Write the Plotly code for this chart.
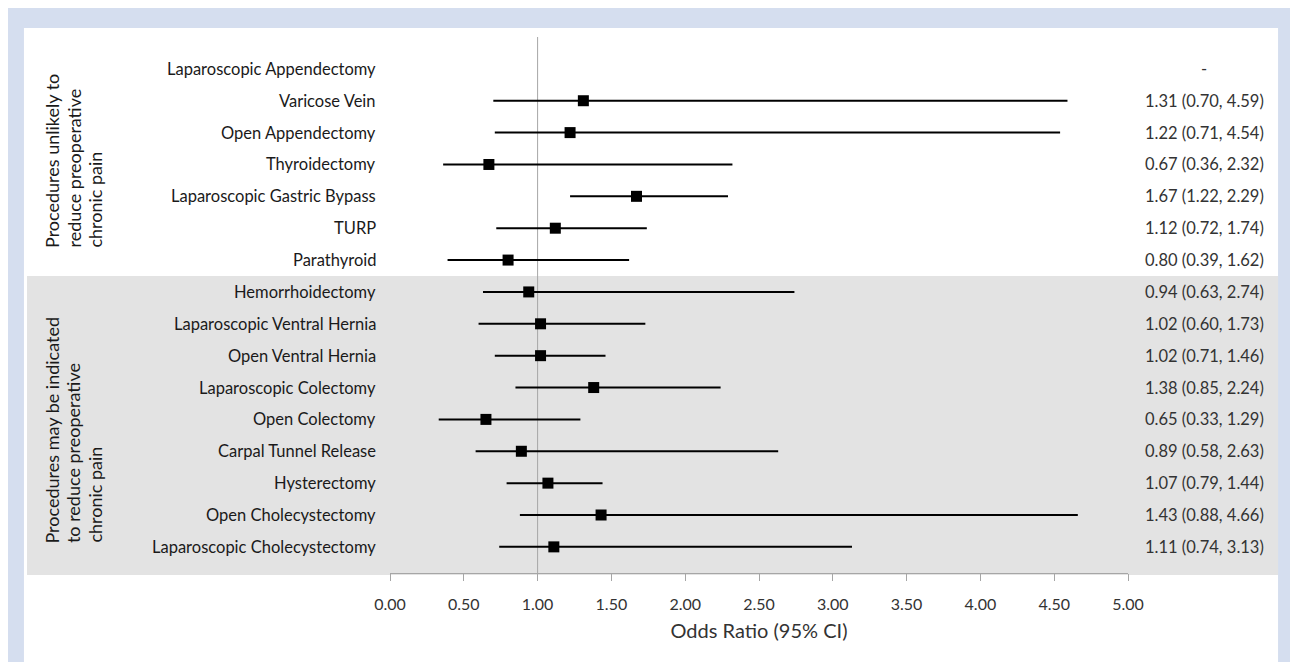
import plotly.graph_objects as go

procedures = [
    "Laparoscopic Appendectomy", "Varicose Vein", "Open Appendectomy", "Thyroidectomy",
    "Laparoscopic Gastric Bypass", "TURP", "Parathyroid", "Hemorrhoidectomy",
    "Laparoscopic Ventral Hernia", "Open Ventral Hernia", "Laparoscopic Colectomy",
    "Open Colectomy", "Carpal Tunnel Release", "Hysterectomy", "Open Cholecystectomy",
    "Laparoscopic Cholecystectomy",
]
odds_ratio = [None, 1.31, 1.22, 0.67, 1.67, 1.12, 0.80, 0.94, 1.02, 1.02, 1.38, 0.65, 0.89, 1.07, 1.43, 1.11]
ci_low = [None, 0.70, 0.71, 0.36, 1.22, 0.72, 0.39, 0.63, 0.60, 0.71, 0.85, 0.33, 0.58, 0.79, 0.88, 0.74]
ci_high = [None, 4.59, 4.54, 2.32, 2.29, 1.74, 1.62, 2.74, 1.73, 1.46, 2.24, 1.29, 2.63, 1.44, 4.66, 3.13]
ci_text = ["-", "1.31 (0.70, 4.59)", "1.22 (0.71, 4.54)", "0.67 (0.36, 2.32)", "1.67 (1.22, 2.29)",
           "1.12 (0.72, 1.74)", "0.80 (0.39, 1.62)", "0.94 (0.63, 2.74)", "1.02 (0.60, 1.73)",
           "1.02 (0.71, 1.46)", "1.38 (0.85, 2.24)", "0.65 (0.33, 1.29)", "0.89 (0.58, 2.63)",
           "1.07 (0.79, 1.44)", "1.43 (0.88, 4.66)", "1.11 (0.74, 3.13)"]
group1_lines = ["Procedures unlikely to", "reduce preoperative", "chronic pain"]
group2_lines = ["Procedures may be indicated", "to reduce preoperative", "chronic pain"]
tick_vals = [0, 0.5, 1, 1.5, 2, 2.5, 3, 3.5, 4, 4.5, 5]
tick_text = ["0.00", "0.50", "1.00", "1.50", "2.00", "2.50", "3.00", "3.50", "4.00", "4.50", "5.00"]

rows = list(range(len(procedures)))
FONT = "Lato, 'Open Sans', sans-serif"

fig = go.Figure()

# CI lines
lx, ly = [], []
for r, lo, hi in zip(rows, ci_low, ci_high):
    if lo is None:
        continue
    lx += [lo, hi, None]
    ly += [r, r, None]
fig.add_trace(go.Scatter(x=lx, y=ly, mode="lines", line=dict(color="black", width=2),
                         hoverinfo="skip", showlegend=False))
# point estimates
px = [o for o in odds_ratio if o is not None]
py = [r for r, o in zip(rows, odds_ratio) if o is not None]
fig.add_trace(go.Scatter(x=px, y=py, mode="markers",
                         marker=dict(symbol="square", size=11, color="black"),
                         showlegend=False))

shapes = [
    # white panel
    dict(type="rect", xref="paper", yref="paper", x0=-0.496, x1=1.2033, y0=-0.3, y1=1.0168,
         fillcolor="white", line=dict(width=0), layer="below"),
    # grey group band
    dict(type="rect", xref="paper", yref="paper", x0=-0.4919, x1=1.2033, y0=-0.0037, y1=0.554,
         fillcolor="#e3e3e3", line=dict(width=0), layer="below"),
    # reference line at OR=1
    dict(type="line", xref="x", yref="paper", x0=1, x1=1, y0=0, y1=1,
         line=dict(color="#a6a6a6", width=1), layer="below"),
]

annotations = []
for r, name, t in zip(rows, procedures, ci_text):
    annotations.append(dict(x=-0.0163, xref="paper", y=r, yref="y", text=name, showarrow=False,
                            xanchor="right", yanchor="middle",
                            font=dict(family=FONT, size=16.5, color="#1a1a1a")))
    annotations.append(dict(x=1.103, xref="paper", y=r, yref="y", text=t, showarrow=False,
                            xanchor="center", yanchor="middle",
                            font=dict(family=FONT, size=16.5, color="#333333")))
line_x = [-0.4580, -0.4295, -0.4003]
for lines, ybot in ((group1_lines, 0.6026), (group2_lines, 0.0522)):
    for lxp, txt in zip(line_x, lines):
        annotations.append(dict(x=lxp, xref="paper", y=ybot, yref="paper", text=txt,
                                showarrow=False, textangle=-90, xanchor="center",
                                yanchor="bottom",
                                font=dict(family=FONT, size=18, color="#1a1a1a")))

fig.update_layout(
    width=1298, height=662,
    margin=dict(l=382, r=178, t=29, b=97),
    paper_bgcolor="#d5deef",
    plot_bgcolor="rgba(0,0,0,0)",
    shapes=shapes,
    annotations=annotations,
    xaxis=dict(range=[0, 5], tickvals=tick_vals, ticktext=tick_text, showgrid=False,
               zeroline=False, showline=True, linecolor="#a6a6a6", linewidth=1,
               ticks="outside", ticklen=7, tickcolor="#a6a6a6", ticklabelstandoff=10,
               tickfont=dict(family=FONT, size=16, color="#333333"),
               title=dict(text="Odds Ratio (95% CI)", standoff=11,
                          font=dict(family=FONT, size=20, color="#333333"))),
    yaxis=dict(range=[15.82, -1.0], showticklabels=False, showgrid=False, zeroline=False,
               showline=False, ticks=""),
)

fig.write_html("out.html")
